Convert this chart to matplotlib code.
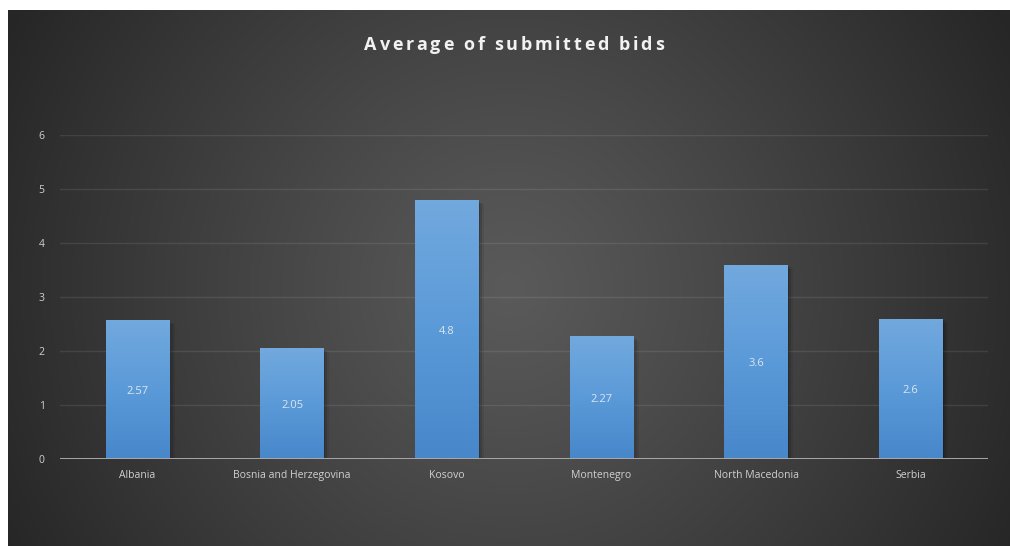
import numpy as np
import matplotlib
matplotlib.use("Agg")
import matplotlib.pyplot as plt
import matplotlib.patheffects as pe
from matplotlib.colors import LinearSegmentedColormap

# Chart data
countries = ["Albania", "Bosnia and Herzegovina", "Kosovo", "Montenegro",
             "North Macedonia", "Serbia"]
avg_bids = [2.57, 2.05, 4.8, 2.27, 3.6, 2.6]
y_ticks = [0, 1, 2, 3, 4, 5, 6]
title_text = "Average of submitted bids"

W, H = 1010, 546
fig = plt.figure(figsize=(W / 100, H / 100), dpi=100)
fig.patch.set_facecolor("white")

# Dark panel with a radial gradient (lighter centre, darker corners)
px0, py0, px1, py1 = 8, 10, 1010, 546  # panel in pixel coords (top-left origin)
bg_ax = fig.add_axes([px0 / W, 1 - py1 / H, (px1 - px0) / W, (py1 - py0) / H])
bg_ax.set_axis_off()
pw, ph = px1 - px0, py1 - py0
xx, yy = np.meshgrid(np.arange(pw), np.arange(ph))
cx, cy = pw / 2, ph / 2 + 10
dist = np.hypot(xx - cx, yy - cy)
r = np.clip(dist / np.hypot(pw / 2, ph / 2), 0, 1)
c_in, c_out = 0x5a / 255, 0x26 / 255
val = c_in + (c_out - c_in) * r ** 1.1
bg = np.dstack([val, val, val])
bg_ax.imshow(bg, aspect="auto", interpolation="bilinear", extent=[0, 1, 0, 1], origin="upper")
bg_ax.set_xlim(0, 1)
bg_ax.set_ylim(0, 1)

# Plot area
ax_l, ax_r, ax_b, ax_t = 60, 988, 459, 135
ax = fig.add_axes([ax_l / W, 1 - ax_b / H, (ax_r - ax_l) / W, (ax_b - ax_t) / H])
ax.set_facecolor("none")
ax.patch.set_alpha(0)

x = np.arange(len(countries))
ax.set_xlim(-0.5, len(countries) - 0.5)
ax.set_ylim(0, 6)

text_color = "#d0d0d0"
font = "Open Sans"

# Gridlines
for t in y_ticks[1:]:
    ax.axhline(t, color="white", alpha=0.09, lw=1.0, zorder=1)
ax.axhline(0, color="#a8a8a8", lw=1.4, zorder=5)

for s in ax.spines.values():
    s.set_visible(False)

ax.set_yticks(y_ticks)
ax.set_yticklabels([str(t) for t in y_ticks], color=text_color, fontsize=7.5, family=font)
ax.set_xticks(x)
ax.set_xticklabels(countries, color=text_color, fontsize=7.5, family=font)
ax.tick_params(axis="both", length=0)
ax.tick_params(axis="y", pad=11)
ax.tick_params(axis="x", pad=8)

# Bars with soft drop shadow and vertical blue gradient
bar_cmap = LinearSegmentedColormap.from_list("barblue", ["#4787ca", "#5b9ad8", "#72a9de"])
grad = np.linspace(0, 1, 256).reshape(-1, 1)
shadow = [
    pe.SimplePatchShadow(offset=(1, -1), shadow_rgbFace="black", alpha=0.16),
    pe.SimplePatchShadow(offset=(2.5, -2), shadow_rgbFace="black", alpha=0.12),
    pe.SimplePatchShadow(offset=(4, -3), shadow_rgbFace="black", alpha=0.07),
    pe.Normal(),
]
bars = ax.bar(x, avg_bids, width=0.41, color="#5b9ad8", zorder=3)
for b in bars:
    b.set_path_effects(shadow)
    x0, w, h = b.get_x(), b.get_width(), b.get_height()
    im = ax.imshow(grad, cmap=bar_cmap, origin="lower", aspect="auto",
                   extent=[x0, x0 + w, 0, h], zorder=4, interpolation="bilinear")
    im.set_clip_path(b)

ax.set_xlim(-0.5, len(countries) - 0.5)
ax.set_ylim(0, 6)

# Value labels centred inside each bar
for xi, v in zip(x, avg_bids):
    ax.annotate(f"{v:g}", (xi, v / 2), xytext=(0, -1.5), textcoords="offset points",
                ha="center", va="center", color="#dde6ef",
                fontsize=8, family=font, zorder=6)

# Title with widened letter spacing, placed character by character
fig.canvas.draw()
renderer = fig.canvas.get_renderer()
title_kw = dict(fontsize=13, fontweight="bold", family=font, color="#f2f2f2")
spacing = 2.7  # extra pixels between characters
widths = []
space_w = None
for ch in title_text:
    if ch == " ":
        if space_w is None:
            t = fig.text(0, 0, "a a", **title_kw)
            full = t.get_window_extent(renderer).width
            t.remove()
            t = fig.text(0, 0, "aa", **title_kw)
            space_w = full - t.get_window_extent(renderer).width
            t.remove()
        widths.append(space_w)
    else:
        t = fig.text(0, 0, ch, **title_kw)
        widths.append(t.get_window_extent(renderer).width)
        t.remove()
total = sum(widths) + spacing * (len(title_text) - 1)
title_cx, title_cy = 514, 45
cur = title_cx - total / 2
for ch, w in zip(title_text, widths):
    if ch != " ":
        fig.text(cur / W, 1 - title_cy / H, ch, ha="left", va="center", **title_kw)
    cur += w + spacing

fig.savefig("out.png", dpi=100)
